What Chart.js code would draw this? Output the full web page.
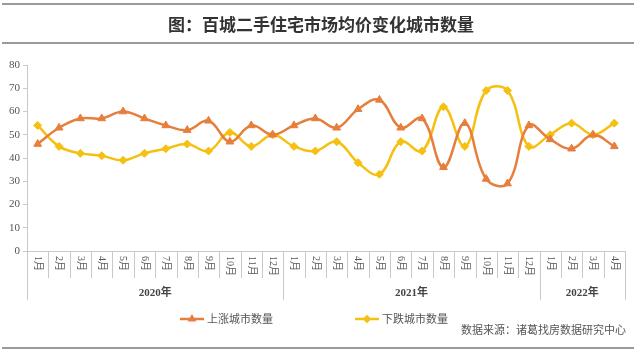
<!DOCTYPE html>
<html>
<head>
<meta charset="utf-8">
<script src="https://cdn.jsdelivr.net/npm/chart.js@4"></script>
<style>
  html, body { margin: 0; padding: 0; background: #fff; }
  #wrap { width: 640px; height: 351px; position: relative; }
</style>
</head>
<body>
<div id="wrap"><canvas id="cityChart" width="640" height="351"></canvas></div>
<script>
const months = ['1月','2月','3月','4月','5月','6月','7月','8月','9月','10月','11月','12月',
                '1月','2月','3月','4月','5月','6月','7月','8月','9月','10月','11月','12月',
                '1月','2月','3月','4月'];
const years = ['2020年', '2021年', '2022年'];
const yearSpans = [12, 12, 4];
const upCities = [46, 53, 57, 57, 60, 57, 54, 52, 56, 47, 54, 50,
                  54, 57, 53, 61, 65, 53, 57, 36, 55, 31, 29, 54,
                  48, 44, 50, 45];
const downCities = [54, 45, 42, 41, 39, 42, 44, 46, 43, 51, 45, 50,
                    45, 43, 47, 38, 33, 47, 43, 62, 45, 69, 69, 45,
                    50, 55, 50, 55];
const yTicks = [0, 10, 20, 30, 40, 50, 60, 70, 80];

const ORANGE = '#E67E3C';
const YELLOW = '#F5C010';
const SERIF = '"Liberation Serif", "Noto Sans CJK SC", serif';
const CJK = '"Noto Sans CJK SC", sans-serif';

// rules, title, month/year axis, legend, source
const decoPlugin = {
    id: 'deco',
    afterDraw(chart) {
        const ctx = chart.ctx;
        const xs = chart.scales.x;
        const area = chart.chartArea;
        ctx.save();

        // top and bottom rules
        ctx.strokeStyle = '#9a9a9a';
        ctx.lineWidth = 2;
        [4, 43, 348].forEach(y => {
            ctx.beginPath();
            ctx.moveTo(2, y);
            ctx.lineTo(634, y);
            ctx.stroke();
        });

        // title
        ctx.fillStyle = '#333';
        ctx.font = 'bold 17px ' + CJK;
        ctx.textAlign = 'center';
        ctx.textBaseline = 'middle';
        ctx.fillText('图：百城二手住宅市场均价变化城市数量', 321, 25);

        // category separators
        const n = months.length;
        const w = (xs.right - xs.left) / n;
        const yearEdges = [0];
        yearSpans.reduce((acc, s) => { yearEdges.push(acc + s); return acc + s; }, 0);
        ctx.strokeStyle = '#c8c8c8';
        ctx.lineWidth = 1;
        for (let i = 0; i <= n; i++) {
            const x = Math.round(xs.left + i * w) + 0.5;
            const end = yearEdges.includes(i) ? area.bottom + 49 : area.bottom + 27;
            ctx.beginPath();
            ctx.moveTo(x, area.bottom);
            ctx.lineTo(x, end);
            ctx.stroke();
        }

        // month labels, rotated clockwise
        ctx.fillStyle = '#555';
        ctx.font = '10px ' + SERIF;
        ctx.textAlign = 'left';
        ctx.textBaseline = 'middle';
        months.forEach((m, i) => {
            const x = xs.getPixelForValue(i);
            ctx.save();
            ctx.translate(x, area.bottom + 5);
            ctx.rotate(Math.PI / 2);
            ctx.fillText(m, 0, 0);
            ctx.restore();
        });

        // year labels
        ctx.font = 'bold 11px ' + SERIF;
        ctx.fillStyle = '#444';
        ctx.textAlign = 'center';
        years.forEach((yr, k) => {
            const x = xs.left + (yearEdges[k] + yearEdges[k + 1]) / 2 * w;
            ctx.fillText(yr, x, area.bottom + 42);
        });

        // legend
        const legend = [
            { text: '上涨城市数量', color: ORANGE, style: 'triangle', x: 180 },
            { text: '下跌城市数量', color: YELLOW, style: 'rectRot', x: 355 }
        ];
        ctx.font = '11px ' + CJK;
        ctx.textAlign = 'left';
        legend.forEach(l => {
            ctx.strokeStyle = l.color;
            ctx.lineWidth = 2.5;
            ctx.beginPath();
            ctx.moveTo(l.x, 319);
            ctx.lineTo(l.x + 24, 319);
            ctx.stroke();
            Chart.helpers.drawPoint(ctx, { pointStyle: l.style, radius: 2.5, borderWidth: 1 }, l.x + 12, 319);
            ctx.fillStyle = l.color;
            ctx.fill();
            ctx.fillStyle = '#555';
            ctx.fillText(l.text, l.x + 27, 319);
        });

        // source
        ctx.textAlign = 'right';
        ctx.fillStyle = '#555';
        ctx.font = '11px ' + CJK;
        ctx.fillText('数据来源：诸葛找房数据研究中心', 626, 330);

        ctx.restore();
    }
};

const ctx = document.getElementById('cityChart').getContext('2d');
new Chart(ctx, {
    type: 'line',
    data: {
        labels: months,
        datasets: [
            {
                label: '上涨城市数量',
                data: upCities,
                borderColor: ORANGE,
                backgroundColor: ORANGE,
                borderWidth: 2.5,
                pointStyle: 'triangle',
                pointRadius: 4.5,
                pointBorderWidth: 1,
                tension: 0.4
            },
            {
                label: '下跌城市数量',
                data: downCities,
                borderColor: YELLOW,
                backgroundColor: YELLOW,
                borderWidth: 2.5,
                pointStyle: 'rectRot',
                pointRadius: 4,
                pointBorderWidth: 1,
                tension: 0.4
            }
        ]
    },
    options: {
        responsive: false,
        animation: false,
        layout: { padding: { top: 65, right: 15, bottom: 0, left: 0 } },
        plugins: {
            legend: { display: false },
            title: { display: false },
            tooltip: { enabled: false }
        },
        scales: {
            x: {
                offset: true,
                grid: { display: false },
                border: { display: true, color: '#c8c8c8', width: 1 },
                ticks: { display: false },
                afterFit(scale) { scale.height = 100; }
            },
            y: {
                min: 0,
                max: 80,
                afterBuildTicks(scale) { scale.ticks = yTicks.map(v => ({ value: v })); },
                grid: { drawOnChartArea: false, drawTicks: true, tickLength: 4, color: '#c8c8c8' },
                border: { display: true, color: '#c8c8c8', width: 1 },
                ticks: {
                    color: '#555',
                    padding: 3,
                    font: { family: SERIF, size: 11 }
                },
                afterFit(scale) { scale.width = 27; }
            }
        }
    },
    plugins: [decoPlugin]
});
</script>
</body>
</html>
